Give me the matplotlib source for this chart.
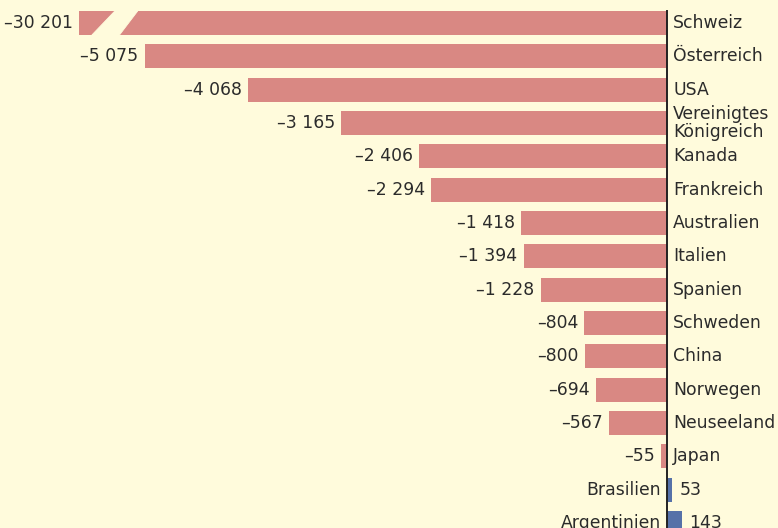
import numpy as np
import matplotlib
matplotlib.use("Agg")
from matplotlib import pyplot as plt
from matplotlib.patches import Polygon

countries = ["Schweiz", "Österreich", "USA", "Vereinigtes\nKönigreich", "Kanada",
             "Frankreich", "Australien", "Italien", "Spanien", "Schweden", "China",
             "Norwegen", "Neuseeland", "Japan", "Brasilien", "Argentinien"]
values = [-30201, -5075, -4068, -3165, -2406, -2294, -1418, -1394, -1228,
          -804, -800, -694, -567, -55, 53, 143]

# Schweiz is cut off, drawn to this length with a break
cap = 5715

BG = "#FFFBDC"
NEG = "#D98883"
POS = "#5671A8"
TXT = "#2B2B2B"


def fmt(v: int) -> str:
    s = f"{abs(v):,}".replace(",", " ")
    return ("–" if v < 0 else "") + s


fig = plt.figure(figsize=(7.78, 5.28), dpi=100, facecolor=BG)
ax = fig.add_axes([0, 0, 1, 1], facecolor=BG)

px = 0.1029  # pixels per unit
ax.set_xlim(-667 / px, (778 - 667) / px)
ax.set_ylim((528 - 23) / 33.33, -23 / 33.33)
ax.axis("off")

h = 0.72
ys = np.arange(len(values))
shown = [max(v, -cap) for v in values]
cols = [NEG if v < 0 else POS for v in values]
ax.barh(ys, shown, height=h, color=cols, zorder=2)

# break on the truncated bar (slanted gap)
i0 = 0
top, bot = ys[i0] - h / 2, ys[i0] + h / 2
gap = Polygon([(-0.939 * cap, top), (-0.900 * cap, top),
               (-0.931 * cap, bot), (-0.978 * cap, bot)],
              closed=True, facecolor=BG, edgecolor=BG, lw=0.6, zorder=3)
ax.add_patch(gap)

ax.plot([0, 0], [ys[0] - h / 2, len(values) + 1], color="#222222", lw=1.4, zorder=4)

fs = 12.4
for y, v, s, name in zip(ys, values, shown, countries):
    if v < 0:
        ax.annotate(fmt(v), (s, y), xytext=(-4.5, 0), textcoords="offset points",
                    ha="right", va="center", fontsize=fs, color=TXT)
        ax.annotate(name, (0, y), xytext=(4.5, 0), textcoords="offset points",
                    ha="left", va="center", fontsize=fs, color=TXT, linespacing=0.95)
    else:
        ax.annotate(fmt(v), (s, y), xytext=(5.5, 0), textcoords="offset points",
                    ha="left", va="center", fontsize=fs, color=TXT)
        ax.annotate(name, (0, y), xytext=(-4.5, 0), textcoords="offset points",
                    ha="right", va="center", fontsize=fs, color=TXT)

fig.savefig("out.png", dpi=100, facecolor=BG)
